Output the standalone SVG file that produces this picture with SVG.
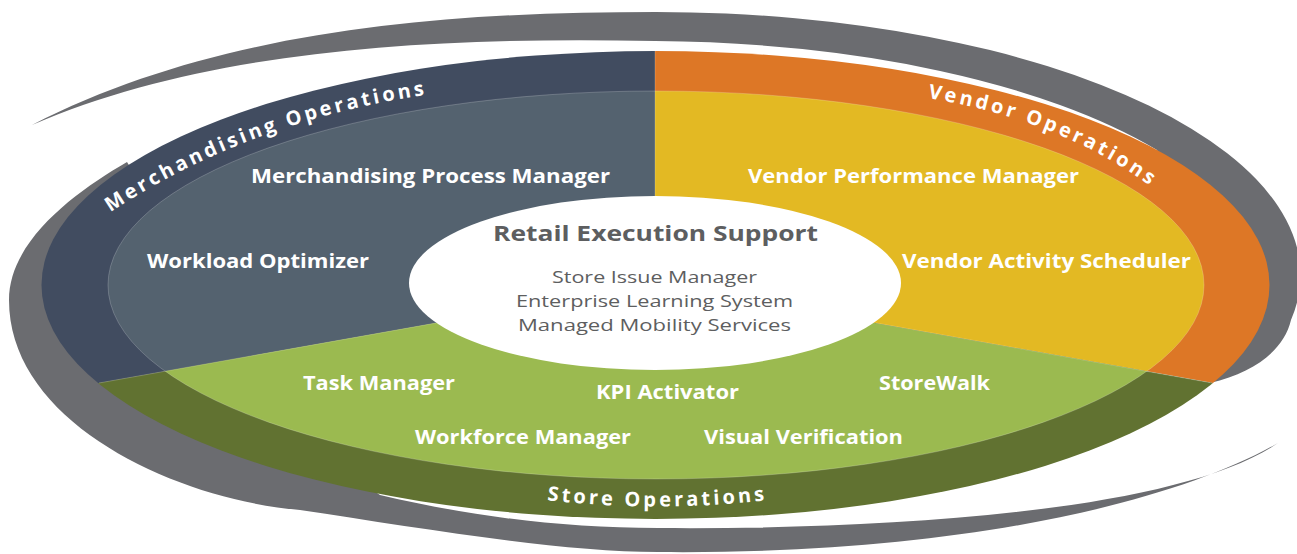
<svg xmlns="http://www.w3.org/2000/svg" width="1297" height="554" viewBox="0 0 1297 554">
<defs>
<style>
.sw{fill:#6b6c70}
.lbl{font-family:"Open Sans","Noto Sans","Liberation Sans",sans-serif;font-weight:700;font-size:20px;fill:#ffffff}
.arc{font-family:"Open Sans","Noto Sans","Liberation Sans",sans-serif;font-weight:700;font-size:20px;fill:#ffffff;letter-spacing:3.2px}
.ttl{font-family:"Open Sans","Noto Sans","Liberation Sans",sans-serif;font-weight:700;font-size:21px;fill:#5d5e60}
.sub{font-family:"Open Sans","Noto Sans","Liberation Sans",sans-serif;font-weight:400;font-size:16px;fill:#5d5e60}
.edge{fill:none;stroke:#ffffff;stroke-opacity:0.25;stroke-width:0.8}
</style>
<clipPath id="cL"><polygon points="0,0 655,0 655,284 0,400.5"/></clipPath>
<clipPath id="cR"><polygon points="655,0 1297,0 1297,398 655,284"/></clipPath>
<clipPath id="cB"><polygon points="0,400.5 655,284 1297,398 1297,554 0,554"/></clipPath>
<path id="pM" d="M 96 222 Q 245 118 445 92"/>
<path id="pV" d="M 915 96 Q 1065 118 1162 195"/>
<path id="pS" d="M 530 498 Q 656 515 785 498"/>
</defs>
<g id="swooshes">
<path class="sw" d="M 32 125 C 220 28 450 12 656 12 A 645 263 0 0 1 1291 320 C 1284 350 1255 372 1210 383 L 1200 280 L 1157 150 A 614 244 0 0 0 655.5 41 C 420 36 200 52 32 125 Z"/>
<path class="sw" d="M 127 162 C 77 191 9 240 9 300 C 9 425 180 500 300 510 C 420 528 560 552 658 552 C 950 555 1170 505 1278 443 C 1180 510 900 530 658 528 C 560 528 470 516 380 495 L 300 440 Z"/>
</g>
<g id="merchandising-operations">
<ellipse cx="655.5" cy="285" rx="614" ry="234" fill="#414c60" clip-path="url(#cL)"/>
<ellipse cx="656" cy="285" rx="548" ry="194" fill="#54626f" clip-path="url(#cL)"/>
<text class="arc"><textPath href="#pM" startOffset="50%" text-anchor="middle">Merchandising Operations</textPath></text>
<text class="lbl" x="251" y="183" textLength="359" lengthAdjust="spacingAndGlyphs">Merchandising Process Manager</text>
<text class="lbl" x="147" y="268" textLength="222" lengthAdjust="spacingAndGlyphs">Workload Optimizer</text>
</g>
<g id="vendor-operations">
<ellipse cx="655.5" cy="285" rx="614" ry="234" fill="#dd7726" clip-path="url(#cR)"/>
<ellipse cx="656" cy="285" rx="548" ry="194" fill="#e3b923" clip-path="url(#cR)"/>
<text class="arc"><textPath href="#pV" startOffset="50%" text-anchor="middle">Vendor Operations</textPath></text>
<text class="lbl" x="748" y="183" textLength="331" lengthAdjust="spacingAndGlyphs">Vendor Performance Manager</text>
<text class="lbl" x="902" y="268" textLength="289" lengthAdjust="spacingAndGlyphs">Vendor Activity Scheduler</text>
</g>
<g id="store-operations">
<ellipse cx="655.5" cy="285" rx="614" ry="234" fill="#617231" clip-path="url(#cB)"/>
<ellipse cx="656" cy="285" rx="548" ry="194" fill="#9bba50" clip-path="url(#cB)"/>
<text class="arc"><textPath href="#pS" startOffset="50%" text-anchor="middle">Store Operations</textPath></text>
<text class="lbl" x="303" y="390" textLength="152" lengthAdjust="spacingAndGlyphs">Task Manager</text>
<text class="lbl" x="596" y="399" textLength="143" lengthAdjust="spacingAndGlyphs">KPI Activator</text>
<text class="lbl" x="879" y="390" textLength="111" lengthAdjust="spacingAndGlyphs">StoreWalk</text>
<text class="lbl" x="415" y="444" textLength="216" lengthAdjust="spacingAndGlyphs">Workforce Manager</text>
<text class="lbl" x="704" y="444" textLength="199" lengthAdjust="spacingAndGlyphs">Visual Verification</text>
</g>
<g id="edges">
<ellipse class="edge" cx="656" cy="285" rx="548" ry="194"/>
<path class="edge" d="M 655 51 L 655 197 M 436 323 L 99 383 M 876 323 L 1212 383"/>
</g>
<g id="retail-execution-support">
<ellipse cx="655" cy="283" rx="246" ry="87" fill="#ffffff"/>
<text class="ttl" x="493" y="241" textLength="325" lengthAdjust="spacingAndGlyphs">Retail Execution Support</text>
<text class="sub" x="552" y="283" textLength="205" lengthAdjust="spacingAndGlyphs">Store Issue Manager</text>
<text class="sub" x="516" y="307" textLength="277" lengthAdjust="spacingAndGlyphs">Enterprise Learning System</text>
<text class="sub" x="518" y="331" textLength="273" lengthAdjust="spacingAndGlyphs">Managed Mobility Services</text>
</g>
</svg>
